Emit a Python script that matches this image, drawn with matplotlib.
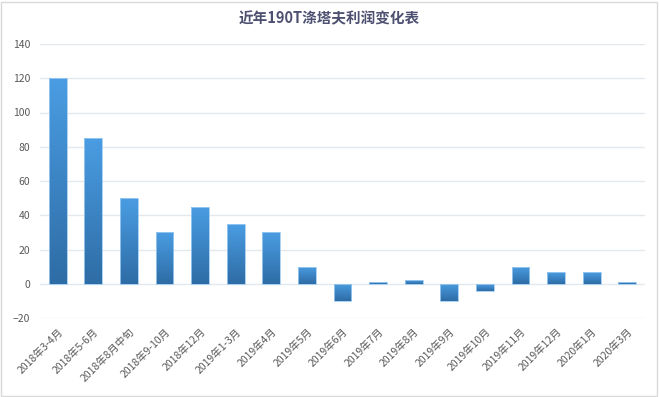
import matplotlib
matplotlib.use("Agg")
import matplotlib.pyplot as plt
import numpy as np
from matplotlib.colors import LinearSegmentedColormap
from matplotlib.patches import Rectangle

plt.rcParams['font.family'] = ['Noto Sans CJK SC', 'DejaVu Sans']

periods = ['2018年3-4月', '2018年5-6月', '2018年8月中旬', '2018年9-10月', '2018年12月',
           '2019年1-3月', '2019年4月', '2019年5月', '2019年6月', '2019年7月', '2019年8月',
           '2019年9月', '2019年10月', '2019年11月', '2019年12月', '2020年1月', '2020年3月']
profit = [120, 85, 50, 30, 45, 35, 30, 10, -10, 1, 2, -10, -4, 10, 7, 7, 1]

fig = plt.figure(figsize=(6.59, 3.97), dpi=100)
ax = fig.add_axes([40 / 659, 1 - 318 / 397, 605 / 659, 274 / 397])

# light frame round the whole chart
fig.patches.append(Rectangle((1 / 659, 1 / 397), 656 / 659, 394 / 397, transform=fig.transFigure,
                             fill=False, edgecolor='#d9d9d9', linewidth=1))

cmap = LinearSegmentedColormap.from_list('bar', ['#2e6ca5', '#4a9de3'])
grad = np.linspace(0, 1, 256).reshape(-1, 1)
width = 0.5
x = np.arange(len(periods))
bars = ax.bar(x, profit, width=width, color='none', edgecolor='#9fcbf0', linewidth=0.6, zorder=3)
for b, v in zip(bars, profit):
    x0 = b.get_x()
    if v >= 0:
        ext = (x0, x0 + width, 0, v)
    else:
        ext = (x0, x0 + width, v, 0)
    im = ax.imshow(grad, extent=ext, origin='lower', cmap=cmap, aspect='auto', zorder=2)
    im.set_clip_path(b)

ax.set_xlim(-0.5, len(periods) - 0.5)
ax.set_ylim(-20, 140)
ax.set_yticks(range(-20, 141, 20))
ax.grid(axis='y', color='#e3e8ec', linewidth=1, zorder=0)
ax.set_axisbelow(True)
for s in ax.spines.values():
    s.set_visible(False)
ax.tick_params(axis='both', length=0, colors='#595959', labelsize=7.5)
ax.tick_params(axis='y', pad=7)
ax.set_xticks(x)
ax.set_xticklabels(periods, rotation=45, ha='right', rotation_mode='anchor')
ax.tick_params(axis='x', pad=6)

fig.text(0.5, 1 - 18 / 397, '近年190T涤塔夫利润变化表', ha='center', va='center',
         fontsize=10.5, fontweight='bold', color='#4d5070')

fig.savefig('out.png', dpi=100)
